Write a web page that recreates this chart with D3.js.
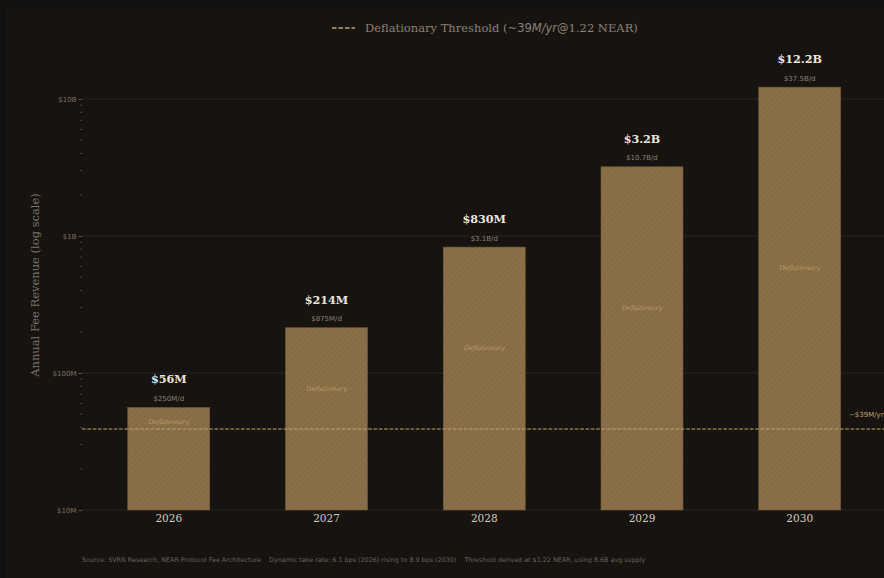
<!DOCTYPE html>
<html>
<head>
<meta charset="utf-8">
<script src="https://cdn.jsdelivr.net/npm/d3@7/dist/d3.min.js"></script>
<style>
html,body{margin:0;padding:0;background:#111111;}
svg{display:block;}
</style>
</head>
<body>
<svg id="chart" width="884" height="578"></svg>
<script>
const years = ["2026","2027","2028","2029","2030"];
const revenue = [56e6, 214e6, 830e6, 3.2e9, 12.2e9];
const valueLabels = ["$56M","$214M","$830M","$3.2B","$12.2B"];
const dailyLabels = ["$250M/d","$875M/d","$3.1B/d","$10.7B/d","$37.5B/d"];
const yTickValues = [1e7, 1e8, 1e9, 1e10];
const yTickLabels = ["$10M","$100M","$1B","$10B"];
const threshold = 39e6;

const svg = d3.select("#chart");
const W = 884, H = 578;

svg.append("rect").attr("x",0).attr("y",0).attr("width",W).attr("height",H).attr("fill","#111111");
svg.append("rect").attr("x",6).attr("y",7).attr("width",W-6).attr("height",H-7).attr("fill","#171311");

const defs = svg.append("defs");
const pat = defs.append("pattern").attr("id","hatch").attr("patternUnits","userSpaceOnUse")
  .attr("width",4).attr("height",4).attr("patternTransform","rotate(45)");
pat.append("rect").attr("width",4).attr("height",4).attr("fill","#8a6f48");
pat.append("line").attr("x1",0).attr("y1",0).attr("x2",0).attr("y2",4)
  .attr("stroke","#7d6441").attr("stroke-width",1.2);

const left = 82, right = 884;
const x = d3.scaleLinear().domain([-0.55, 4.55]).range([82, 886.5]);
const y = d3.scaleLog().domain([1e7, 1e10]).range([510, 99]);
const barW = 82;

// grid
svg.append("g").selectAll("line").data(yTickValues).join("line")
  .attr("x1", left).attr("x2", right)
  .attr("y1", d => y(d)).attr("y2", d => y(d))
  .attr("stroke", "#2c2824").attr("stroke-width", 0.8);

// y axis
const yAxis = d3.axisLeft(y).tickValues(yTickValues)
  .tickFormat(d => yTickLabels[yTickValues.indexOf(d)]).tickSize(3.5).tickPadding(2);
const gy = svg.append("g").attr("transform", `translate(${left},0)`).call(yAxis);
gy.select(".domain").remove();
gy.selectAll(".tick line").attr("stroke","#6e665a").attr("stroke-width",0.8);
gy.selectAll(".tick text").attr("fill","#7a7262").attr("font-family","DejaVu Sans")
  .attr("font-size","7px");

// minor ticks
const minor = [];
for (let e = 7; e <= 9; e++) for (let m = 2; m <= 9; m++) minor.push(m * Math.pow(10, e));
svg.append("g").selectAll("line").data(minor).join("line")
  .attr("x1", left - 2).attr("x2", left)
  .attr("y1", d => y(d)).attr("y2", d => y(d))
  .attr("stroke","#6e665a").attr("stroke-width",0.6);

// bars
svg.append("g").selectAll("rect").data(revenue).join("rect")
  .attr("x", (d,i) => x(i) - barW/2).attr("width", barW)
  .attr("y", d => y(d)).attr("height", d => y(1e7) - y(d))
  .attr("fill","url(#hatch)").attr("stroke","#6f5a3a").attr("stroke-width",0.6);

// threshold line
svg.append("line").attr("x1", left).attr("x2", right)
  .attr("y1", y(threshold)).attr("y2", y(threshold))
  .attr("stroke","#c4a56c").attr("stroke-width",1).attr("stroke-dasharray","3.7,1.6");
svg.append("text").attr("x", 849).attr("y", y(threshold) - 12)
  .attr("fill","#c4a56c").attr("font-family","DejaVu Sans").attr("font-size","7px")
  .text("~$39M/yr");

// "Deflationary" labels
const lthr = Math.log10(threshold);
svg.append("g").selectAll("text").data(revenue).join("text")
  .attr("x", (d,i) => x(i))
  .attr("y", d => {
    let l = 0.5*Math.log10(d) + 3.72;
    if (l < lthr + 0.05) l = lthr + 0.05;
    return y(Math.pow(10, l));
  })
  .attr("text-anchor","middle").attr("dominant-baseline","central")
  .attr("fill","#c9aa72").attr("fill-opacity",0.8)
  .attr("font-family","DejaVu Serif").attr("font-style","italic").attr("font-size","6.5px")
  .text("Deflationary");

// value labels
svg.append("g").selectAll("text").data(revenue).join("text")
  .attr("x", (d,i) => x(i)).attr("y", d => y(d) - 24)
  .attr("text-anchor","middle")
  .attr("fill","#ece6da").attr("font-family","DejaVu Serif").attr("font-weight","bold")
  .attr("font-size","11.2px")
  .text((d,i) => valueLabels[i]);
svg.append("g").selectAll("text").data(revenue).join("text")
  .attr("x", (d,i) => x(i)).attr("y", d => y(d) - 6.5)
  .attr("text-anchor","middle")
  .attr("fill","#8a8272").attr("font-family","DejaVu Sans").attr("font-size","7px")
  .text((d,i) => dailyLabels[i]);

// x labels
svg.append("g").selectAll("text").data(years).join("text")
  .attr("x", (d,i) => x(i)).attr("y", 522)
  .attr("text-anchor","middle")
  .attr("fill","#d4ccbd").attr("font-family","DejaVu Serif").attr("font-size","10.5px")
  .text(d => d);

// y axis title
svg.append("text").attr("transform","translate(39,285) rotate(-90)")
  .attr("text-anchor","middle").attr("fill","#7a7262")
  .attr("font-family","DejaVu Serif").attr("font-size","11.5px")
  .text("Annual Fee Revenue (log scale)");

// legend
svg.append("line").attr("x1",332).attr("x2",355).attr("y1",28).attr("y2",28)
  .attr("stroke","#c4a56c").attr("stroke-width",1.3).attr("stroke-dasharray","4.5,2");
const leg = svg.append("text").attr("x",365).attr("y",32)
  .attr("fill","#8a8272").attr("font-family","DejaVu Serif").attr("font-size","11.5px");
leg.append("tspan").attr("font-family","DejaVu Serif").text("Deflationary Threshold (~");
leg.append("tspan").attr("font-family","DejaVu Sans").text("39");
leg.append("tspan").attr("font-family","DejaVu Sans").attr("font-style","italic").text("M/yr");
leg.append("tspan").attr("font-family","DejaVu Sans").text("@");
leg.append("tspan").attr("font-family","DejaVu Serif").text("1.22 NEAR)");

// footer
svg.append("text").attr("x",82).attr("y",562)
  .attr("fill","#6a6354").attr("font-family","DejaVu Sans").attr("font-size","6.4px")
  .attr("xml:space","preserve")
  .text("Source: SVRN Research, NEAR Protocol Fee Architecture    Dynamic take rate: 6.1 bps (2026) rising to 8.9 bps (2030)    Threshold derived at $1.22 NEAR, using 8.6B avg supply");
</script>
</body>
</html>
